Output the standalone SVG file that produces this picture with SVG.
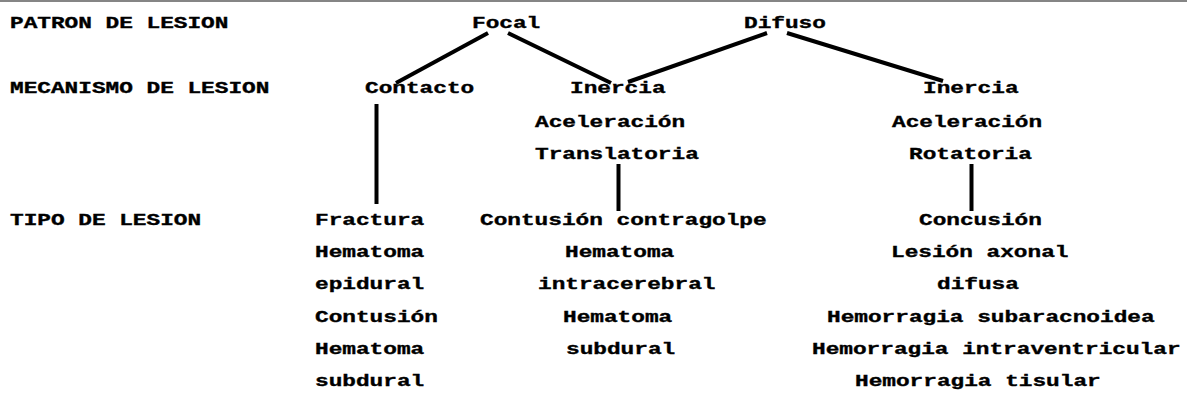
<svg xmlns="http://www.w3.org/2000/svg" width="1187" height="398" viewBox="0 0 1187 398">
  <style>
    text { font-family: "Liberation Mono", "Courier New", monospace; font-weight: bold; font-size: 16px; fill: #000; stroke: #000; stroke-width: 0.35px; }
    .edge { stroke: #000; stroke-width: 4; fill: none; }
  </style>
  <rect x="0" y="0" width="1187" height="398" fill="#fff"/>
  <line x1="0" y1="1" x2="1187" y2="1" stroke="#858585" stroke-width="2"/>

  <g id="row-labels">
    <text x="10" y="28" textLength="218.4" lengthAdjust="spacingAndGlyphs">PATRON DE LESION</text>
    <text x="10" y="93" textLength="259.35" lengthAdjust="spacingAndGlyphs">MECANISMO DE LESION</text>
    <text x="10" y="225" textLength="191.1" lengthAdjust="spacingAndGlyphs">TIPO DE LESION</text>
  </g>

  <g id="connectors">
    <line class="edge" x1="488" y1="33" x2="396" y2="83"/>
    <line class="edge" x1="508" y1="33" x2="611" y2="83"/>
    <line class="edge" x1="767" y1="33" x2="628" y2="82"/>
    <line class="edge" x1="787" y1="33" x2="943" y2="81"/>
    <line class="edge" x1="376.5" y1="104" x2="376.5" y2="204"/>
    <line class="edge" x1="618.5" y1="164" x2="618.5" y2="211"/>
    <line class="edge" x1="971.5" y1="164" x2="971.5" y2="211"/>
  </g>

  <g id="focal">
    <text x="472" y="28" textLength="68.25" lengthAdjust="spacingAndGlyphs">Focal</text>
  </g>
  <g id="difuso">
    <text x="744" y="28" textLength="81.9" lengthAdjust="spacingAndGlyphs">Difuso</text>
  </g>
  <g id="contacto">
    <text x="365" y="93" textLength="109.2" lengthAdjust="spacingAndGlyphs">Contacto</text>
  </g>
  <g id="inercia-traslacional">
    <text x="570" y="93" textLength="95.55" lengthAdjust="spacingAndGlyphs">Inercia</text>
    <text x="535" y="127" textLength="150.15" lengthAdjust="spacingAndGlyphs">Aceleración</text>
    <text x="535" y="159" textLength="163.8" lengthAdjust="spacingAndGlyphs">Translatoria</text>
  </g>
  <g id="inercia-rotacional">
    <text x="923" y="93" textLength="95.55" lengthAdjust="spacingAndGlyphs">Inercia</text>
    <text x="892" y="127" textLength="150.15" lengthAdjust="spacingAndGlyphs">Aceleración</text>
    <text x="909" y="159" textLength="122.85" lengthAdjust="spacingAndGlyphs">Rotatoria</text>
  </g>
  <g id="lesiones-contacto">
    <text x="315" y="225" textLength="109.2" lengthAdjust="spacingAndGlyphs">Fractura</text>
    <text x="315" y="257" textLength="109.2" lengthAdjust="spacingAndGlyphs">Hematoma</text>
    <text x="315" y="289" textLength="109.2" lengthAdjust="spacingAndGlyphs">epidural</text>
    <text x="315" y="321.5" textLength="122.85" lengthAdjust="spacingAndGlyphs">Contusión</text>
    <text x="315" y="354" textLength="109.2" lengthAdjust="spacingAndGlyphs">Hematoma</text>
    <text x="315" y="386" textLength="109.2" lengthAdjust="spacingAndGlyphs">subdural</text>
  </g>
  <g id="lesiones-traslacional">
    <text x="480" y="225" textLength="286.65" lengthAdjust="spacingAndGlyphs">Contusión contragolpe</text>
    <text x="565" y="257" textLength="109.2" lengthAdjust="spacingAndGlyphs">Hematoma</text>
    <text x="538" y="289" textLength="177.45" lengthAdjust="spacingAndGlyphs">intracerebral</text>
    <text x="563" y="321.5" textLength="109.2" lengthAdjust="spacingAndGlyphs">Hematoma</text>
    <text x="566" y="354" textLength="109.2" lengthAdjust="spacingAndGlyphs">subdural</text>
  </g>
  <g id="lesiones-rotacional">
    <text x="919" y="225" textLength="122.85" lengthAdjust="spacingAndGlyphs">Concusión</text>
    <text x="891" y="257" textLength="177.45" lengthAdjust="spacingAndGlyphs">Lesión axonal</text>
    <text x="937" y="289" textLength="81.9" lengthAdjust="spacingAndGlyphs">difusa</text>
    <text x="827" y="321.5" textLength="327.6" lengthAdjust="spacingAndGlyphs">Hemorragia subaracnoidea</text>
    <text x="812" y="354" textLength="368.55" lengthAdjust="spacingAndGlyphs">Hemorragia intraventricular</text>
    <text x="855" y="386" textLength="245.7" lengthAdjust="spacingAndGlyphs">Hemorragia tisular</text>
  </g>
</svg>
